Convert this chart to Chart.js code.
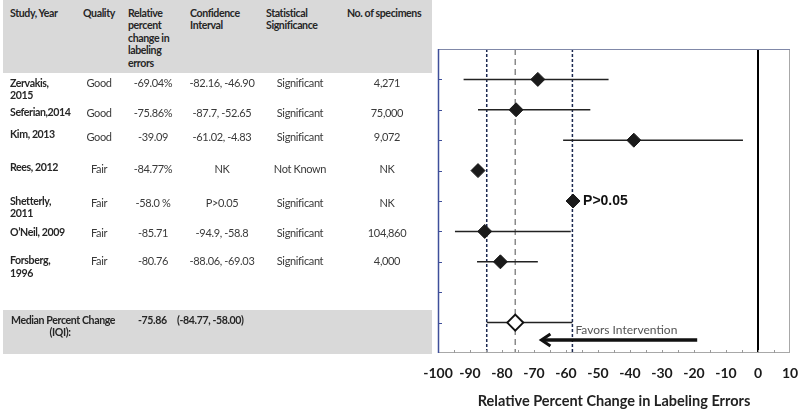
<!DOCTYPE html>
<html>
<head>
<meta charset="utf-8">
<script src="https://cdn.jsdelivr.net/npm/chart.js@4"></script>
<style>
  html, body { margin: 0; padding: 0; background: #fff; }
  #wrap { position: relative; width: 800px; height: 413px; overflow: hidden; }
  #chart { position: absolute; left: 0; top: 0; }
  #table { position: absolute; left: 0; top: 0; width: 440px; height: 413px;
           font-family: Lato, "Open Sans", sans-serif; font-size: 11px; color: #3a3a3a; }
  .band { position: absolute; left: 3px; width: 429px; background: #d9d9d9; }
  .cell { position: absolute; white-space: nowrap; line-height: 14px; letter-spacing: -0.35px; }
  .c { transform: translateX(-50%); }
  .b { font-weight: bold; color: #262626; font-size: 10.6px; letter-spacing: -0.4px; }
</style>
</head>
<body>
<div id="wrap">
  <canvas id="chart" width="800" height="413"></canvas>
  <div id="table"></div>
</div>
<script>
// ---- table text ----
const tableStudy = [["Zervakis,", "2015"], ["Seferian,2014"], ["Kim, 2013"], ["Rees, 2012"],
  ["Shetterly,", "2011"], ["O\u2019Neil, 2009"], ["Forsberg,", "1996"]];
const tableQuality = ["Good", "Good", "Good", "Fair", "Fair", "Fair", "Fair"];
const tableChange = ["-69.04%", "-75.86%", "-39.09", "-84.77%", "-58.0 %", "-85.71", "-80.76"];
const tableCI = ["-82.16, -46.90", "-87.7, -52.65", "-61.02, -4.83", "NK", "P>0.05", "-94.9, -58.8", "-88.06, -69.03"];
const tableSig = ["Significant", "Significant", "Significant", "Not Known", "Significant", "Significant", "Significant"];
const tableN = ["4,271", "75,000", "9,072", "NK", "NK", "104,860", "4,000"];
const headers = [["Study, Year"], ["Quality"], ["Relative", "percent", "change in", "labeling", "errors"],
  ["Confidence", "Interval"], ["Statistical", "Significance"], ["No. of specimens"]];
const medianText = ["Median Percent Change", "(IQI):", "-75.86", "(-84.77, -58.00)"];

// ---- plotted values ----
const rows = [1, 2, 3, 4, 5, 6, 7];
const pointValues = [-68.8, -75.6, -38.8, -87.5, -57.8, -85.4, -80.5];
const ciLow = [-92.0, -87.5, -60.9, null, null, -94.7, -87.8];
const ciHigh = [-46.7, -52.4, -4.7, null, null, -58.5, -68.8];
const medianRow = 9;
const medianValue = -75.86;
const iqrLow = -84.77;
const iqrHigh = -58.0;
const nullValue = 0;
const arrowFrom = -19;
const arrowTo = -68;
const arrowRow = 9.57;
const xTicks = [-100, -90, -80, -70, -60, -50, -40, -30, -20, -10, 0, 10];

// ---- build the table ----
const table = document.getElementById("table");
function band(top, height) {
  const d = document.createElement("div");
  d.className = "band";
  d.style.top = top + "px";
  d.style.height = height + "px";
  table.appendChild(d);
}
function cell(text, x, y, center, bold) {
  const d = document.createElement("div");
  d.className = "cell" + (center ? " c" : "") + (bold ? " b" : "");
  d.textContent = text;
  d.style.left = x + "px";
  d.style.top = (y - 7) + "px";
  table.appendChild(d);
}
band(0, 73);
band(310, 44);

const headerX = [10, 83, 128, 190, 266, 347];
headers.forEach((lines, i) => {
  lines.forEach((t, j) => cell(t, headerX[i], 13 + j * 12.4, false, true));
});

const nameY = [82.7, 111.7, 134, 167.3, 200.7, 231.7, 260];
const valueY = [82.7, 113.3, 137.3, 169.3, 202.7, 233.3, 260.7];
tableStudy.forEach((lines, i) => {
  lines.forEach((t, j) => cell(t, 10, nameY[i] + j * 12.5, false, true));
  cell(tableQuality[i], 99, valueY[i], true);
  cell(tableChange[i], 153, valueY[i], true);
  cell(tableCI[i], 222, valueY[i], true);
  cell(tableSig[i], 300, valueY[i], true);
  cell(tableN[i], 387, valueY[i], true);
});
cell(medianText[0], 11, 320, false, true);
cell(medianText[1], 60, 332, true, true);
cell(medianText[2], 138, 320, false, true);
cell(medianText[3], 177, 320, false, true);

// ---- forest plot ----
function vline(ctx, a, px, color, width, dash) {
  ctx.beginPath();
  ctx.strokeStyle = color;
  ctx.lineWidth = width;
  ctx.setLineDash(dash);
  ctx.moveTo(px, a.top);
  ctx.lineTo(px, a.bottom);
  ctx.stroke();
}

const forestPlugin = {
  id: "forest",
  beforeDatasetsDraw(chart) {
    const { ctx, chartArea: a, scales: { x, y } } = chart;
    ctx.save();
    vline(ctx, a, x.getPixelForValue(nullValue), "#000", 2, []);
    vline(ctx, a, x.getPixelForValue(medianValue), "#8a8a8a", 1.5, [6, 4]);
    vline(ctx, a, x.getPixelForValue(iqrLow), "#1b2850", 1.5, [3, 2]);
    vline(ctx, a, x.getPixelForValue(iqrHigh), "#1b2850", 1.5, [3, 2]);
    ctx.setLineDash([]);
    ctx.strokeStyle = "#222";
    ctx.lineWidth = 1.5;
    rows.forEach((r, i) => {
      if (ciLow[i] == null) return;
      const py = y.getPixelForValue(r);
      ctx.beginPath();
      ctx.moveTo(x.getPixelForValue(ciLow[i]), py);
      ctx.lineTo(x.getPixelForValue(ciHigh[i]), py);
      ctx.stroke();
    });
    const my = y.getPixelForValue(medianRow);
    ctx.beginPath();
    ctx.moveTo(x.getPixelForValue(iqrLow), my);
    ctx.lineTo(x.getPixelForValue(iqrHigh), my);
    ctx.stroke();
    ctx.restore();
  },
  afterDatasetsDraw(chart) {
    const { ctx, chartArea: a, scales: { x, y } } = chart;
    ctx.save();
    // arrow
    const ay = y.getPixelForValue(arrowRow);
    const ax0 = x.getPixelForValue(arrowFrom);
    const ax1 = x.getPixelForValue(arrowTo);
    ctx.strokeStyle = "#111";
    ctx.lineWidth = 3.5;
    ctx.beginPath();
    ctx.moveTo(ax0, ay);
    ctx.lineTo(ax1 + 2, ay);
    ctx.stroke();
    ctx.lineWidth = 3;
    ctx.beginPath();
    ctx.moveTo(ax1 + 10, ay - 6);
    ctx.lineTo(ax1 + 1, ay);
    ctx.lineTo(ax1 + 10, ay + 6);
    ctx.stroke();
    // labels
    ctx.fillStyle = "#555";
    ctx.font = "12px Lato";
    ctx.textBaseline = "middle";
    ctx.fillText("Favors Intervention", x.getPixelForValue(iqrHigh) + 3, y.getPixelForValue(medianRow) + 8);
    ctx.fillStyle = "#111";
    ctx.font = "bold 14px 'Liberation Sans'";
    ctx.fillText("P>0.05", x.getPixelForValue(pointValues[4]) + 10, y.getPixelForValue(rows[4]));
    // frame
    ctx.lineWidth = 1;
    ctx.strokeStyle = "#a8a8a8";
    ctx.strokeRect(a.left + 0.5, a.top + 0.5, a.right - a.left - 1, a.bottom - a.top - 1);
    ctx.strokeStyle = "#8088a8";
    ctx.beginPath();
    ctx.moveTo(a.left, a.top + 0.5);
    ctx.lineTo(a.right, a.top + 0.5);
    ctx.stroke();
    ctx.strokeStyle = "#3f4f9a";
    ctx.lineWidth = 1.5;
    ctx.beginPath();
    ctx.moveTo(a.left + 0.5, a.top);
    ctx.lineTo(a.left + 0.5, a.bottom);
    ctx.stroke();
    // inward tick marks
    ctx.lineWidth = 1;
    ctx.strokeStyle = "#3f4f9a";
    for (let v = 1; v <= 9; v++) {
      const py = Math.round(y.getPixelForValue(v)) + 0.5;
      ctx.beginPath();
      ctx.moveTo(a.left, py);
      ctx.lineTo(a.left + 4, py);
      ctx.stroke();
    }
    ctx.strokeStyle = "#999";
    for (let v = x.min + 5; v < x.max; v += 5) {
      const px = Math.round(x.getPixelForValue(v)) + 0.5;
      ctx.beginPath();
      ctx.moveTo(px, a.bottom);
      ctx.lineTo(px, a.bottom - 3);
      ctx.stroke();
    }
    ctx.restore();
  }
};

new Chart(document.getElementById("chart"), {
  type: "scatter",
  data: {
    datasets: [
      {
        data: pointValues.map((v, i) => ({ x: v, y: rows[i] })),
        pointStyle: "rectRot",
        pointRadius: 7,
        backgroundColor: "#1a1a1a",
        borderColor: "#1a1a1a",
        borderWidth: 1
      },
      {
        data: [{ x: medianValue, y: medianRow }],
        pointStyle: "rectRot",
        pointRadius: 8,
        backgroundColor: "#fff",
        borderColor: "#111",
        borderWidth: 2
      }
    ]
  },
  options: {
    responsive: false,
    animation: false,
    layout: { padding: { left: 438, right: 7, top: 49, bottom: 0 } },
    plugins: { legend: { display: false }, tooltip: { enabled: false } },
    scales: {
      x: {
        type: "linear",
        min: -100,
        max: 10,
        afterBuildTicks: (s) => { s.ticks = xTicks.map((v) => ({ value: v })); },
        ticks: {
          color: "#1a1a1a", font: { family: "Lato", size: 14, weight: "bold" }, padding: 4,
          maxRotation: 0, minRotation: 0, autoSkip: false
        },
        grid: { display: false, drawTicks: true, tickLength: 8 },
        border: { display: false },
        title: {
          display: true,
          text: "Relative Percent Change in Labeling Errors",
          color: "#222",
          font: { family: "Lato", size: 14.5, weight: "bold" },
          padding: { top: 0, bottom: 3 }
        },
        afterFit: (s) => { s.height = 60; s.paddingLeft = 0; s.paddingRight = 0; }
      },
      y: { display: false, min: 0, max: 10, reverse: true }
    }
  },
  plugins: [forestPlugin]
});
</script>
</body>
</html>
